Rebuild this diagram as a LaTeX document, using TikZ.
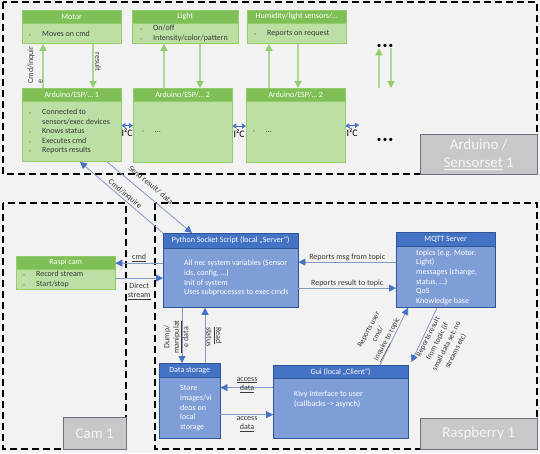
\documentclass[tikz,border=0pt]{standalone}
\usepackage{fontspec}
\setmainfont{Carlito}
\usetikzlibrary{positioning,arrows.meta}

\definecolor{latar}{RGB}{242,242,242}
\definecolor{hijautua}{RGB}{126,192,86}
\definecolor{hijaumuda}{RGB}{188,224,163}
\definecolor{hijaugaris}{RGB}{146,204,108}
\definecolor{hijaupanah}{RGB}{172,214,146}
\definecolor{birutua}{RGB}{68,114,196}
\definecolor{birumuda}{RGB}{127,157,214}
\definecolor{birugaris}{RGB}{47,85,151}
\definecolor{birupanah}{RGB}{132,152,198}
\definecolor{abulabel}{RGB}{200,200,203}
\definecolor{abugaris}{RGB}{110,110,130}
\definecolor{teksgelap}{RGB}{55,55,55}
\definecolor{abutitik}{RGB}{120,140,110}

\newcommand{\butir}{\makebox[13pt][l]{\color{abutitik}\fontsize{4}{4}\selectfont\textbullet}}
\newcommand{\lanjut}{\hspace*{13pt}}

\begin{document}
\begin{tikzpicture}[x=1pt,y=-1pt,
    kepalahijau/.style={draw=hijaugaris, fill=hijautua, text=white, anchor=north west,
      inner sep=0pt, font=\fontsize{8}{9.5}\selectfont},
    badanhijau/.style={draw=hijaugaris, fill=hijaumuda, inner sep=0pt},
    kepalabiru/.style={draw=birugaris, fill=birutua, text=white, anchor=north west,
      inner sep=0pt, font=\fontsize{8}{9.5}\selectfont},
    badanbiru/.style={draw=birugaris, fill=birumuda, inner sep=0pt},
    teksisi/.style={anchor=west, align=left, inner sep=0pt, text=teksgelap,
      font=\fontsize{8}{9.5}\selectfont},
    teksputih/.style={anchor=west, align=left, inner sep=0pt, text=white,
      font=\fontsize{8}{9.7}\selectfont},
    putus/.style={draw=black, line width=1.3pt, dash pattern=on 7pt off 4pt},
    labelabu/.style={draw=abugaris, fill=abulabel, text=white!96!black, anchor=north west,
      align=center, inner sep=1pt, font=\fontsize{15}{18}\selectfont},
    labelpanah/.style={inner sep=1pt, text=teksgelap, font=\fontsize{8}{9.5}\selectfont},
    labelmiring/.style={inner sep=1pt, text=teksgelap, align=center, font=\fontsize{7.6}{10.3}\selectfont},
    titik/.style={inner sep=0pt, font=\fontsize{9}{9}\selectfont},
    panahhijau/.style={draw=hijaupanah, line width=1.2pt,
      -{Triangle[length=7pt,width=7pt,color=hijaugaris,fill=hijaugaris]}},
    panahbiru/.style={draw=birupanah, line width=0.8pt,
      -{Triangle[length=7pt,width=7pt,color=birutua,fill=birutua]}},
    i2c/.style={draw=birutua, line width=1pt,
      {Triangle[length=4pt,width=5pt]}-{Triangle[length=4pt,width=5pt]}},
    i2clabel/.style={inner sep=0pt, text=black, font=\fontsize{10}{10}\selectfont}]

  % Latar
  \fill[latar] (0,0) rectangle (540,453);
  \useasboundingbox (0,0) rectangle (540,453);

  % Kotak putus-putus
  \draw[putus] (3,2) rectangle (537,174);
  \draw[putus] (3,203) rectangle (126,449);
  \draw[putus] (155,203) rectangle (537,449);

  % Label kelompok
  \node[labelabu, minimum width=117, minimum height=40] (lblarduino) at (420,134) {Arduino /\\\underline{Sensorset} 1};
  \node[labelabu, minimum width=63, minimum height=32] (lblcam) at (63,417) {Cam 1};
  \node[labelabu, minimum width=117, minimum height=31] (lblraspi) at (420,418) {Raspberry 1};

  % Perangkat
  \node[kepalahijau, minimum width=99, minimum height=13] (motorkepala) at (22,10) {Motor};
  \node[badanhijau, minimum width=99, minimum height=20, below=0pt of motorkepala] (motor) {};
  \node[teksisi] (motorteks) at ([xshift=7]motor.west) {\butir Moves on cmd};

  \node[kepalahijau, minimum width=106, minimum height=13] (cahayakepala) at (132,10) {Light};
  \node[badanhijau, minimum width=106, minimum height=20, below=0pt of cahayakepala] (cahaya) {};
  \node[teksisi] (cahayateks) at ([xshift=8]cahaya.west) {\butir On/off\\\butir Intensity/color/pattern};

  \node[kepalahijau, minimum width=99, minimum height=13] (sensorkepala) at (247,10) {Humidity/light sensors/…};
  \node[badanhijau, minimum width=99, minimum height=20, below=0pt of sensorkepala] (sensor) {};
  \node[teksisi] (sensorteks) at ([xshift=7]sensor.west) {\butir Reports on request};

  % Arduino
  \node[kepalahijau, minimum width=99, minimum height=13] (a1kepala) at (22,88) {Arduino/ESP/… 1};
  \node[badanhijau, minimum width=99, minimum height=60, below=0pt of a1kepala] (a1badan) {};
  \node[teksisi] (a1teks) at ([xshift=7]a1badan.west) {\butir Connected to\\\lanjut sensors/exec devices\\\butir Knows status\\\butir Executes cmd\\\butir Reports results};

  \node[kepalahijau, minimum width=99, minimum height=13] (a2kepala) at (133,88) {Arduino/ESP/… 2};
  \node[badanhijau, minimum width=99, minimum height=61, below=0pt of a2kepala] (a2badan) {};
  \node[teksisi] (a2teks) at ([xshift=9]a2badan.west) {\butir …};

  \node[kepalahijau, minimum width=99, minimum height=13] (a3kepala) at (246,88) {Arduino/ESP/… 2};
  \node[badanhijau, minimum width=99, minimum height=61, below=0pt of a3kepala] (a3badan) {};
  \node[teksisi] (a3teks) at ([xshift=7]a3badan.west) {\butir …};

  \node[titik] (titikatas) at (385,46) {•\,•\,•};
  \node[titik] (titikbawah) at (385,140) {•\,•\,•};
  \coordinate (i2cujung) at (359,125);

  % Panah perangkat
  \draw[panahhijau] ([xshift=21]a1kepala.north west) -- ([xshift=21]a1kepala.north west |- motor.south);
  \draw[panahhijau] ([xshift=71]a1kepala.north west |- motor.south) -- ([xshift=71]a1kepala.north west);
  \draw[panahhijau] ([xshift=31]a2kepala.north west) -- ([xshift=31]a2kepala.north west |- cahaya.south);
  \draw[panahhijau] ([xshift=67]a2kepala.north west |- cahaya.south) -- ([xshift=67]a2kepala.north west);
  \draw[panahhijau] ([xshift=23]a3kepala.north west) -- ([xshift=23]a3kepala.north west |- sensor.south);
  \draw[panahhijau] ([xshift=52]a3kepala.north west |- sensor.south) -- ([xshift=52]a3kepala.north west);
  \draw[panahhijau] ([xshift=-6]titikatas.center |- a3kepala.north) -- ([xshift=-6]titikatas.south);
  \draw[panahhijau] ([xshift=6]titikatas.south) -- ([xshift=6]titikatas.center |- a3kepala.north);
  \node[labelpanah, rotate=90, align=left] (lblinquire) at (35,65) {Cmd/inquir\\e};
  \node[labelpanah, rotate=-90] (lblhasil) at (98,62) {result};

  % I2C
  \draw[i2c] ([yshift=6]a1badan.east) -- ([yshift=6]a1badan.east -| a2badan.west)
    node[midway, below=3pt, i2clabel] (lbli2c1) {I²C};
  \draw[i2c] ([yshift=6]a2badan.east) -- ([yshift=6]a2badan.east -| a3badan.west)
    node[midway, below=3pt, i2clabel] (lbli2c2) {I²C};
  \draw[i2c] ([yshift=6]a3badan.east) -- (i2cujung)
    node[midway, below=3pt, i2clabel] (lbli2c3) {I²C};

  % Raspberry
  \node[kepalahijau, minimum width=99, minimum height=13] (kamerakepala) at (16,256) {Raspi cam};
  \node[badanhijau, minimum width=99, minimum height=20, below=0pt of kamerakepala] (kamerabadan) {};
  \node[teksisi] (kamerateks) at ([xshift=7]kamerabadan.west) {\butir Record stream\\\butir Start/stop};

  \node[kepalabiru, minimum width=135, minimum height=15] (pykepala) at (163,233) {Python Socket Script (local „Server“)};
  \node[badanbiru, minimum width=135, minimum height=59, below=0pt of pykepala] (pybadan) {};
  \node[teksputih] (pyteks) at ([xshift=21]pybadan.west) {All nec system variables (Sensor\\ids, config, …)\\Init of system\\Uses subprocesses to exec cmds};

  \node[kepalabiru, minimum width=99, minimum height=14] (mqttkepala) at (396,232) {MQTT Server};
  \node[badanbiru, minimum width=99, minimum height=61, below=0pt of mqttkepala] (mqttbadan) {};
  \node[teksputih] (mqttteks) at ([xshift=20]mqttbadan.west) {topics (e.g. Motor,\\Light)\\messages (change,\\status, …)\\QoS\\Knowledge base};

  \node[kepalabiru, minimum width=61, minimum height=14] (dskepala) at (159,363) {Data storage};
  \node[badanbiru, minimum width=61, minimum height=61, below=0pt of dskepala] (dsbadan) {};
  \node[teksputih] (dsteks) at ([xshift=21]dsbadan.west) {Store\\images/vi\\deos on\\local\\storage};

  \node[kepalabiru, minimum width=135, minimum height=13] (guikepala) at (273,365) {Gui (local „Client“)};
  \node[badanbiru, minimum width=135, minimum height=60, below=0pt of guikepala] (guibadan) {};
  \node[teksputih] (guiteks) at ([xshift=21,yshift=9]guibadan.west) {Kivy Interface to user\\(callbacks -> asynch)};

  % Panah biru
  \draw[panahbiru] (pykepala.north west) -- ([xshift=58]a1badan.south west);
  \draw[panahbiru] ([xshift=85]a1badan.south west) -- ([xshift=29]pykepala.north west);
  \node[labelpanah, rotate=-40] (lblcmd) at (125,194) {Cmd/inquire};
  \node[labelpanah, rotate=-40] (lblkirim) at (151,185) {Send result/ data};

  \draw[panahbiru] ([yshift=15]pybadan.west) -- ([yshift=15]pybadan.west -| kamerabadan.east)
    node[midway, above=0pt, labelpanah] (lblcmdkam) {\underline{cmd}};
  \draw[panahbiru] (pybadan.west -| kamerabadan.east) -- (pybadan.west)
    node[midway, below=3pt, labelpanah, align=center] (lblstream) {Direct\\\underline{stream}};

  \draw[panahbiru] ([yshift=16]pybadan.east -| mqttbadan.west) -- ([yshift=16]pybadan.east)
    node[midway, above=0pt, labelpanah] (lblmsg) {Reports msg from topic};
  \draw[panahbiru] ([yshift=-10]pybadan.east) -- ([yshift=-10]pybadan.east -| mqttbadan.west)
    node[midway, above=0pt, labelpanah] (lblhasiltopik) {Reports result to topic};

  \draw[panahbiru] ([xshift=19]pybadan.south west) -- ([xshift=19]pybadan.south west |- dskepala.north);
  \draw[panahbiru] ([xshift=42]pybadan.south west |- dskepala.north) -- ([xshift=42]pybadan.south west);
  \node[labelpanah, rotate=90, align=center] (lbldump) at (176,337) {Dump/\\\underline{manipulat}\\e data};
  \node[labelpanah, rotate=-90, align=left] (lblbaca) at (214,337) {\underline{Read}\\status};

  \draw[panahbiru] ([yshift=21]guibadan.west) -- ([yshift=21]guibadan.west -| dsbadan.east);
  \node[labelpanah, align=center] (lblakses1) at (247,385) {\underline{access}\\\underline{data}};
  \draw[panahbiru] ([yshift=-6]guibadan.west -| dsbadan.east) -- ([yshift=-6]guibadan.west);
  \node[labelpanah, align=center] (lblakses2) at (247,424) {access\\\underline{data}};

  \draw[panahbiru] ([xshift=107]guikepala.north west) -- ([xshift=12]mqttbadan.south west);
  \draw[panahbiru] ([xshift=41]mqttbadan.south west) -- ([xshift=3,yshift=3]guikepala.north east);
  \node[labelmiring, rotate=62] (lbluser) at (379,335) {Reports user\\cmd/\\\underline{inquire} to topic};
  \node[labelmiring, rotate=63] (lblbalas) at (442,344) {Reports result\\from topic (if\\small data set; no\\streams etc)};

\end{tikzpicture}
\end{document}
